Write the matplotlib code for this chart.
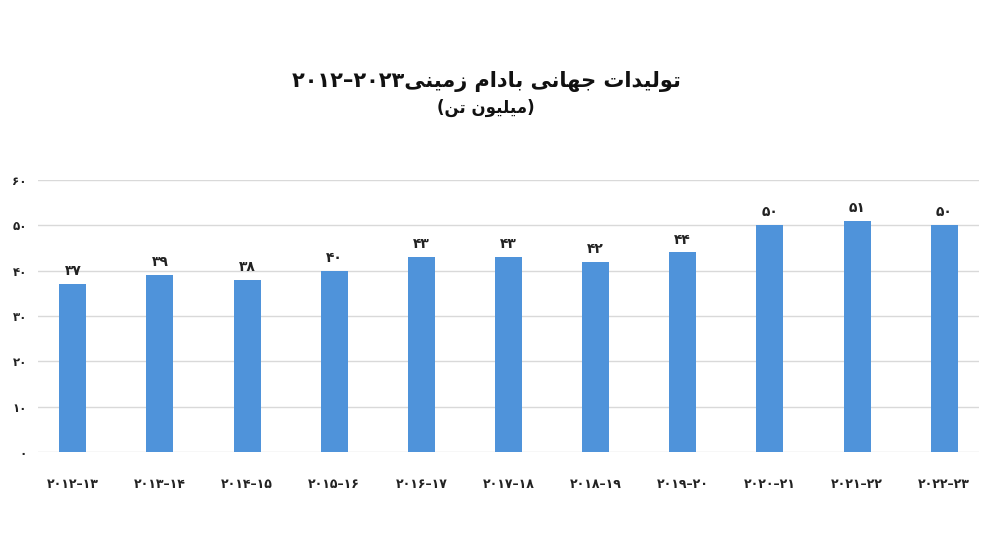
import matplotlib
matplotlib.use("Agg")
import matplotlib.pyplot as plt

seasons = ["2012-13", "2013-14", "2014-15", "2015-16", "2016-17", "2017-18",
           "2018-19", "2019-20", "2020-21", "2021-22", "2022-23"]
production = [37, 39, 38, 40, 43, 43, 42, 44, 50, 51, 50]
y_ticks = [0, 10, 20, 30, 40, 50, 60]

title_text = "تولیدات جهانی بادام زمینی"
title_years = "2012–2023"
unit_text = "میلیون تن"

# presentation forms: isolated, final, initial, medial
FORMS = {
    "ا": ("\uFE8D", "\uFE8E", None, None),
    "ب": ("\uFE8F", "\uFE90", "\uFE91", "\uFE92"),
    "ت": ("\uFE95", "\uFE96", "\uFE97", "\uFE98"),
    "ج": ("\uFE9D", "\uFE9E", "\uFE9F", "\uFEA0"),
    "د": ("\uFEA9", "\uFEAA", None, None),
    "ز": ("\uFEAF", "\uFEB0", None, None),
    "ل": ("\uFEDD", "\uFEDE", "\uFEDF", "\uFEE0"),
    "م": ("\uFEE1", "\uFEE2", "\uFEE3", "\uFEE4"),
    "ن": ("\uFEE5", "\uFEE6", "\uFEE7", "\uFEE8"),
    "ه": ("\uFEE9", "\uFEEA", "\uFEEB", "\uFEEC"),
    "و": ("\uFEED", "\uFEEE", None, None),
    "ی": ("\uFBFC", "\uFBFD", "\uFBFE", "\uFBFF"),
}


def shape(text):
    # join letters by hand, then flip to visual order
    out = []
    for i, ch in enumerate(text):
        if ch not in FORMS:
            out.append(ch)
            continue
        prev = text[i - 1] if i > 0 else ""
        nxt = text[i + 1] if i + 1 < len(text) else ""
        join_prev = prev in FORMS and FORMS[prev][2] is not None
        join_next = nxt in FORMS and FORMS[ch][2] is not None
        iso, fin, ini, med = FORMS[ch]
        if join_prev and join_next:
            out.append(med)
        elif join_prev:
            out.append(fin)
        elif join_next:
            out.append(ini)
        else:
            out.append(iso)
    return "".join(out)[::-1]


FA_DIGITS = str.maketrans("0123456789", "۰۱۲۳۴۵۶۷۸۹")


def fa(s):
    return str(s).translate(FA_DIGITS)


plt.rcParams["font.family"] = ["DejaVu Sans"]

fig = plt.figure(figsize=(10, 5.34), dpi=100)
ax = fig.add_axes([0.038, 0.1536, 0.941, 0.5094])

x = list(range(len(seasons)))
bars = ax.bar(x, production, width=0.31, color="#4F93DA", zorder=3)

for xi, v in zip(x, production):
    ax.text(xi, v + 1.3, fa(v), ha="center", va="bottom", fontsize=10,
            fontweight="bold", color="#222222")

ax.set_xlim(-0.4, len(seasons) - 0.6)
ax.set_ylim(0, 60)
ax.set_yticks(y_ticks)
ax.set_yticklabels([fa(t) for t in y_ticks], fontsize=8.5, fontweight="bold")
ax.set_xticks(x)
ax.set_xticklabels([fa(s.replace("-", "–")) for s in seasons], fontsize=9,
                   fontweight="bold")
ax.tick_params(axis="both", length=0, colors="#222222")
ax.tick_params(axis="x", pad=18.5)
ax.tick_params(axis="y", pad=8)
ax.grid(axis="y", color="#d9d9d9", linewidth=1, zorder=0)
for sp in ax.spines.values():
    sp.set_visible(False)

fig.text(0.486, 0.848, fa(title_years) + shape(title_text), ha="center",
         va="center", fontsize=15, fontweight="bold", color="#111111")
fig.text(0.486, 0.797, "(" + shape(unit_text) + ")", ha="center",
         va="center", fontsize=12, fontweight="bold", color="#111111")

fig.savefig("out.png", dpi=100)
